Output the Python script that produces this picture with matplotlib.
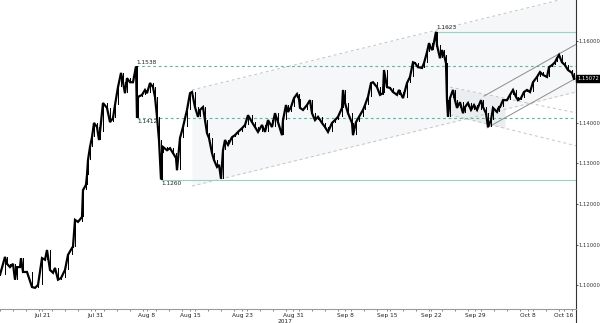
import matplotlib
matplotlib.use("Agg")
import matplotlib.pyplot as plt
import matplotlib.transforms as mtransforms
from matplotlib.ticker import FixedLocator, MultipleLocator
import numpy as np

plt.rcParams.update({
    "font.family": "DejaVu Sans",
    "font.size": 4.2,
})

# position on the trading-time axis and close price
t = [0, 5, 7, 10, 13, 15, 17, 20, 21, 23, 27, 32, 35, 38, 42, 45, 47, 50, 53, 55,
     58, 61, 65, 68, 72, 73, 75, 78, 82, 83, 86, 87, 88, 90, 92, 94, 97, 99,
     100, 103, 107, 110, 113, 115, 118, 121, 123, 125, 127, 130, 133, 136, 137, 138,
     142, 145, 147, 150, 153, 155, 157, 159, 161, 162, 163, 167, 170, 173, 176, 177,
     180, 183, 187, 190, 192, 195, 198,
     200, 203, 205, 207, 209, 212, 214, 217, 219, 221, 223, 225, 228, 232, 235, 238,
     242, 245, 248, 252, 255, 258, 262, 265, 268, 272, 275, 278, 282, 283, 286, 288,
     291, 294, 297, 299,
     300, 303, 307, 310, 312, 315, 318, 322, 325, 328, 332, 335, 338, 342, 343, 345,
     348, 352, 353, 356, 359, 363, 365, 368, 371, 373, 377, 380, 383, 384, 387, 390,
     393, 397, 399,
     400, 403, 407, 410, 413, 415, 418, 422, 424, 427, 429, 432, 433, 436, 437, 440,
     442, 444, 446, 447, 448, 450, 453, 455, 457, 460, 463, 465, 468, 471, 474, 477,
     481, 483, 486, 488, 491, 493, 497, 499,
     500, 503, 507, 510, 513, 516, 518, 521, 524, 527, 530, 533, 537, 540, 543, 547,
     549, 552, 555, 557, 559, 562, 565, 568, 572, 574]
close = [1.1026, 1.1070, 1.1053, 1.1045, 1.1053, 1.1014, 1.1045, 1.1045, 1.1067, 1.1033,
         1.1033, 1.0996, 1.0994, 1.1001, 1.1067, 1.1063, 1.1087, 1.1038, 1.1031, 1.1043,
         1.1014, 1.1018, 1.1038, 1.1075, 1.1092, 1.1095, 1.1161, 1.1156, 1.1168, 1.1234,
         1.1247, 1.1271, 1.1308, 1.1340, 1.1364, 1.1399, 1.1389, 1.1357,
         1.1377, 1.1448, 1.1436, 1.1401, 1.1411, 1.1443, 1.1487, 1.1522, 1.1499, 1.1472,
         1.1509, 1.1499, 1.1499, 1.1538, 1.1412, 1.1463, 1.1468, 1.1480, 1.1472, 1.1497,
         1.1487, 1.1463, 1.1414, 1.1357, 1.1260, 1.1325, 1.1340, 1.1332, 1.1337, 1.1325,
         1.1313, 1.1283, 1.1362, 1.1389, 1.1431, 1.1472, 1.1475, 1.1438, 1.1414,
         1.1431, 1.1438, 1.1406, 1.1374, 1.1362, 1.1325, 1.1308, 1.1291, 1.1296, 1.1262,
         1.1332, 1.1357, 1.1345, 1.1364, 1.1369, 1.1377, 1.1386, 1.1394, 1.1418, 1.1401,
         1.1389, 1.1377, 1.1394, 1.1377, 1.1406, 1.1389, 1.1423, 1.1401, 1.1369, 1.1406,
         1.1443, 1.1426, 1.1438, 1.1460, 1.1470, 1.1458,
         1.1436, 1.1431, 1.1443, 1.1455, 1.1423, 1.1406, 1.1414, 1.1399, 1.1389, 1.1377,
         1.1399, 1.1406, 1.1414, 1.1436, 1.1480, 1.1448, 1.1423, 1.1399, 1.1369, 1.1401,
         1.1414, 1.1431, 1.1443, 1.1463, 1.1497, 1.1499, 1.1487, 1.1468, 1.1472, 1.1529,
         1.1487, 1.1485, 1.1475, 1.1468, 1.1480,
         1.1475, 1.1460, 1.1497, 1.1512, 1.1548, 1.1546, 1.1536, 1.1534, 1.1546, 1.1573,
         1.1595, 1.1578, 1.1585, 1.1623, 1.1590, 1.1558, 1.1578, 1.1566, 1.1546, 1.1455,
         1.1414, 1.1460, 1.1480, 1.1455, 1.1436, 1.1450, 1.1423, 1.1438, 1.1448, 1.1431,
         1.1443, 1.1431, 1.1455, 1.1438, 1.1423, 1.1389, 1.1406, 1.1436, 1.1426, 1.1438,
         1.1438, 1.1455, 1.1455, 1.1468, 1.1480, 1.1463, 1.1455, 1.1460, 1.1475, 1.1480,
         1.1475, 1.1499, 1.1512, 1.1524, 1.1517, 1.1512, 1.1536, 1.1541, 1.1548, 1.1558,
         1.1566, 1.1548, 1.1541, 1.1529, 1.1522, 1.15072]

T_END = 576
PRICE_MIN, PRICE_MAX = 1.0942, 1.1701

TICK_POS = [42, 95, 147, 190, 242, 293, 345, 387, 431, 475, 528, 564]
TICK_LAB = ["Jul 21", "Jul 31", "Aug 8", "Aug 15", "Aug 23", "Aug 31",
            "Sep 8", "Sep 15", "Sep 22", "Sep 29", "Oct 8", "Oct 16"]
YEAR_POS, YEAR_LAB = 285, "2017"

PRICE_TICKS = [1.10, 1.11, 1.12, 1.13, 1.14, 1.15, 1.16]
LAST_PRICE = 1.15072

# horizontal levels: (start, price, label above?)
DASHED_LEVELS = [(136, 1.1538, True), (137, 1.1412, False)]
SOLID_LEVELS = [(161, 1.1260, False), (436, 1.1623, True)]

# channels: [(t0, p0, t1, p1) upper, (t0, p0, t1, p1) lower]
WIDE_CHANNEL = [(192, 1.1480, 576, 1.1711), (192, 1.1244, 576, 1.1475)]
DOWN_CHANNEL = [(450, 1.1487, 576, 1.1424), (450, 1.1419, 576, 1.1343)]
DOWN_FILL_END = 505
UP_CHANNEL = [(484, 1.1465, 576, 1.1592), (487, 1.1387, 576, 1.1509)]

TEAL = "#5bb6a2"
TEAL_LIGHT = "#97d2c4"
GRID_GREY = "#c4c4c4"


def line_at(seg, x):
    t0, p0, t1, p1 = seg
    return np.interp(x, [t0, t1], [p0, p1])


fig = plt.figure(figsize=(6, 3.23), dpi=100)
ax = fig.add_axes([0, 0.0433, 0.96, 0.9567])

# wide rising channel (light fill + dotted borders)
xs = np.array([WIDE_CHANNEL[0][0], T_END])
ax.fill_between(xs, line_at(WIDE_CHANNEL[1], xs), line_at(WIDE_CHANNEL[0], xs),
                color="#f5f7f8", lw=0, zorder=0)
for seg in WIDE_CHANNEL:
    ax.plot([seg[0], seg[2]], [seg[1], seg[3]], color=GRID_GREY, lw=0.7,
            ls=(0, (3, 3)), zorder=1)

# falling channel after the Sep 22 top
xs = np.array([DOWN_CHANNEL[0][0], DOWN_FILL_END])
ax.fill_between(xs, line_at(DOWN_CHANNEL[1], xs), line_at(DOWN_CHANNEL[0], xs),
                color="#eaeef0", lw=0, zorder=0.5)
for seg in DOWN_CHANNEL:
    ax.plot([seg[0], seg[2]], [seg[1], seg[3]], color=GRID_GREY, lw=0.7,
            ls=(0, (3, 3)), zorder=1)

# short-term rising channel
for seg in UP_CHANNEL:
    ax.plot([seg[0], seg[2]], [seg[1], seg[3]], color="#8c8c8c", lw=0.7, zorder=3)

# levels
for start, lvl, above in DASHED_LEVELS:
    ax.hlines(lvl, start, T_END, color=TEAL, lw=0.8, linestyles=(0, (2.5, 2.5)), zorder=2)
for start, lvl, above in SOLID_LEVELS:
    ax.hlines(lvl, start, T_END, color=TEAL_LIGHT, lw=0.8, zorder=2)
for start, lvl, above in DASHED_LEVELS + SOLID_LEVELS:
    ax.annotate(f"{lvl:.4f}", xy=(start, lvl), xytext=(0, 1 if above else -1),
                textcoords="offset points", ha="left",
                va="bottom" if above else "top", color="#222222", zorder=6)

# price path with thin candle bodies between consecutive closes
opens = close[:-1]
ax.bar(t[1:], np.array(close[1:]) - np.array(opens), bottom=opens, width=1.0,
       color="black", lw=0, zorder=4)
ax.plot(t, close, color="black", lw=1.6, zorder=4, solid_joinstyle="miter")

ax.set_xlim(0, T_END)
ax.set_ylim(PRICE_MIN, PRICE_MAX)

for side in ("left", "top"):
    ax.spines[side].set_visible(False)
ax.spines["right"].set_color("#333333")
ax.spines["right"].set_linewidth(0.8)
ax.spines["bottom"].set_color("#9a9a9a")
ax.spines["bottom"].set_linewidth(0.8)

ax.yaxis.tick_right()
ax.set_yticks(PRICE_TICKS)
# the 1.15000 label sits under the last-price tag
ax.set_yticklabels(["" if p == 1.15 else f"{p:.5f}" for p in PRICE_TICKS])
ax.tick_params(axis="y", length=1.5, width=0.6, pad=0.5, colors="#333333",
               labelsize=3.8)

ax.xaxis.set_major_locator(FixedLocator(TICK_POS))
ax.set_xticklabels(TICK_LAB)
ax.xaxis.set_minor_locator(MultipleLocator(13))
ax.tick_params(axis="x", which="both", length=1.5, width=0.5, pad=1.5,
               colors="#555555", labelcolor="#222222")

ax.annotate(YEAR_LAB, xy=(YEAR_POS, 0), xycoords=("data", "axes fraction"),
            xytext=(0, -9), textcoords="offset points", ha="center", va="center",
            color="#222222")

# current price tag
trans = mtransforms.blended_transform_factory(ax.transAxes, ax.transData)
ax.text(1.002, LAST_PRICE, f"{LAST_PRICE:.5f}", transform=trans, ha="left",
        va="center", color="white", zorder=10, fontsize=3.8,
        bbox=dict(boxstyle="square,pad=0.2", fc="black", ec="black"))

# right axis line running past the date row
ax.plot([1, 1], [0, -0.05], transform=ax.transAxes, color="#333333", lw=0.8,
        clip_on=False)

fig.savefig("out.png", dpi=100)
